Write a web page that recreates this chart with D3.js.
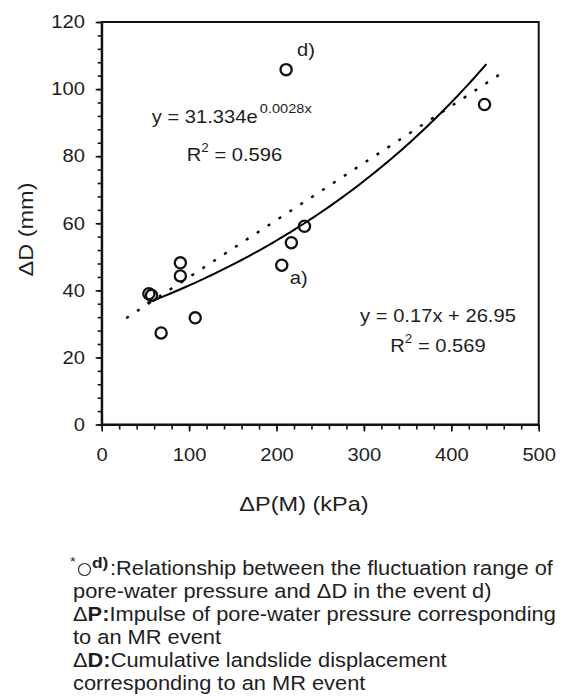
<!DOCTYPE html>
<html>
<head>
<meta charset="utf-8">
<script src="https://cdn.jsdelivr.net/npm/d3@7"></script>
<style>
  body { margin: 0; background: #fff; }
  svg { display: block; }
  text { font-family: "Liberation Sans", Arial, Helvetica, sans-serif; fill: #1e1e1e; }
</style>
</head>
<body>
<div id="chart"></div>
<script>
// measured events: impulse of pore-water pressure vs cumulative displacement
const pressure = [54, 57, 68, 90, 90, 107, 206, 217, 232, 211, 438];
const displacement = [39, 38.5, 27.3, 48.2, 44.3, 31.8, 47.5, 54.2, 59.1, 105.8, 95.4];
const pointLabels = ['', '', '', '', '', '', 'a)', '', '', 'd)', ''];

// trend lines as given in the figure
const expFit = [31.334, 0.0028];   // y = a * e^(b x)
const expSpan = [52, 440];
const linFit = [0.17, 26.95];      // y = m x + c
const linSpan = [28, 459];

const xTicks = [0, 100, 200, 300, 400, 500];
const xMinor = d3.range(0, 501, 20);
const yTicks = [0, 20, 40, 60, 80, 100, 120];
const yMinor = d3.range(0, 121, 4);

const width = 563;
const height = 697;
const sx = 1.12; // source font is a bit wider than Liberation Sans

const x = d3.scaleLinear().domain([0, 500]).range([101.7, 538.7]);
const y = d3.scaleLinear().domain([0, 120]).range([424.5, 22]);

const svg = d3.select('#chart').append('svg')
  .attr('width', width)
  .attr('height', height);

function label(px, py, size, anchor) {
  return svg.append('text')
    .attr('transform', `translate(${px},${py}) scale(${sx},1)`)
    .attr('font-size', size)
    .attr('text-anchor', anchor || 'start');
}

// frame
svg.append('rect')
  .attr('x', x(0))
  .attr('y', y(120))
  .attr('width', x(500) - x(0))
  .attr('height', y(0) - y(120))
  .attr('fill', 'none')
  .attr('stroke', '#111')
  .attr('stroke-width', 2);

// minor ticks
svg.append('g')
  .attr('transform', `translate(0,${y(0)})`)
  .call(d3.axisBottom(x).tickValues(xMinor).tickSize(5).tickFormat(''))
  .call((g) => g.select('.domain').remove());
svg.append('g')
  .attr('transform', `translate(${x(0)},0)`)
  .call(d3.axisLeft(y).tickValues(yMinor).tickSize(4).tickFormat(''))
  .call((g) => g.select('.domain').remove());

// major ticks + labels
const gx = svg.append('g')
  .attr('transform', `translate(0,${y(0)})`)
  .call(d3.axisBottom(x).tickValues(xTicks).tickSize(7).tickSizeOuter(0).tickPadding(17));
const gy = svg.append('g')
  .attr('transform', `translate(${x(0)},0)`)
  .call(d3.axisLeft(y).tickValues(yTicks).tickSize(6).tickSizeOuter(0).tickPadding(9));

[gx, gy].forEach((g) => {
  g.attr('font-size', 18).attr('font-family', null);
  g.select('.domain').attr('stroke', '#111').attr('stroke-width', 2);
  g.selectAll('.tick text').attr('fill', '#1e1e1e').attr('transform', `scale(${sx},1)`);
});
svg.selectAll('.tick line').attr('stroke', '#111').attr('stroke-width', 1.6);

// trend lines
const line = d3.line().x((d) => x(d[0])).y((d) => y(d[1]));

const expPts = d3.range(expSpan[0], expSpan[1] + 0.1, 4)
  .map((v) => [v, expFit[0] * Math.exp(expFit[1] * v)]);
svg.append('path')
  .attr('d', line(expPts))
  .attr('fill', 'none')
  .attr('stroke', '#000')
  .attr('stroke-width', 2);

const linPts = linSpan.map((v) => [v, linFit[0] * v + linFit[1]]);
svg.append('path')
  .attr('d', line(linPts))
  .attr('fill', 'none')
  .attr('stroke', '#000')
  .attr('stroke-width', 2.4)
  .attr('stroke-dasharray', '3,10');

// points
svg.append('g')
  .selectAll('circle')
  .data(pressure)
  .join('circle')
  .attr('cx', (d) => x(d))
  .attr('cy', (d, i) => y(displacement[i]))
  .attr('r', 5.6)
  .attr('fill', 'none')
  .attr('stroke', '#111')
  .attr('stroke-width', 2.3);

pressure.forEach((p, i) => {
  const t = pointLabels[i];
  if (!t) return;
  const up = t === 'd)';
  label(x(p) + (up ? 11 : 8), y(displacement[i]) + (up ? -14 : 19), 18).text(t);
});

// equations
const e1 = label(151.7, 122.5, 18);
e1.append('tspan').text('y = 31.334e');
e1.append('tspan').attr('font-size', 13).attr('dx', 2).attr('dy', -10).text('0.0028x');

const r1 = label(234.5, 160.7, 18, 'middle');
r1.append('tspan').text('R');
r1.append('tspan').attr('font-size', 12).attr('dy', -9).text('2');
r1.append('tspan').attr('dy', 9).text(' = 0.596');

label(438, 321.7, 18, 'middle').text('y = 0.17x + 26.95');
const r2 = label(438, 351.7, 18, 'middle');
r2.append('tspan').text('R');
r2.append('tspan').attr('font-size', 12).attr('dy', -9).text('2');
r2.append('tspan').attr('dy', 9).text(' = 0.569');

// axis titles
label(304, 511, 21, 'middle').text('ΔP(M) (kPa)');
svg.append('text')
  .attr('transform', `translate(25.5,229.5) rotate(-90) scale(${sx},1)`)
  .attr('font-size', 21)
  .attr('text-anchor', 'middle')
  .attr('dy', '0.35em')
  .text('ΔD (mm)');

// footnote
const fs = 19.5;
const base = 575;
const lh = 23;
label(70, base - 9, 13).text('*');
svg.append('circle')
  .attr('cx', 84.5).attr('cy', base - 5.5).attr('r', 6)
  .attr('fill', 'none').attr('stroke', '#333').attr('stroke-width', 1.2);
label(92, base - 7, 15.5).attr('font-weight', 'bold').text('d)');
label(110, base, fs).text(':Relationship between the fluctuation range of');
label(73, base + lh, fs).text('pore-water pressure and ΔD in the event d)');
const f3 = label(73, base + 2 * lh, fs);
f3.append('tspan').text('Δ');
f3.append('tspan').attr('font-weight', 'bold').text('P:');
f3.append('tspan').text('Impulse of pore-water pressure corresponding');
label(73, base + 3 * lh, fs).text('to an MR event');
const f5 = label(73, base + 4 * lh, fs);
f5.append('tspan').text('Δ');
f5.append('tspan').attr('font-weight', 'bold').text('D:');
f5.append('tspan').text('Cumulative landslide displacement');
label(73, base + 5 * lh, fs).text('corresponding to an MR event');
</script>
</body>
</html>
